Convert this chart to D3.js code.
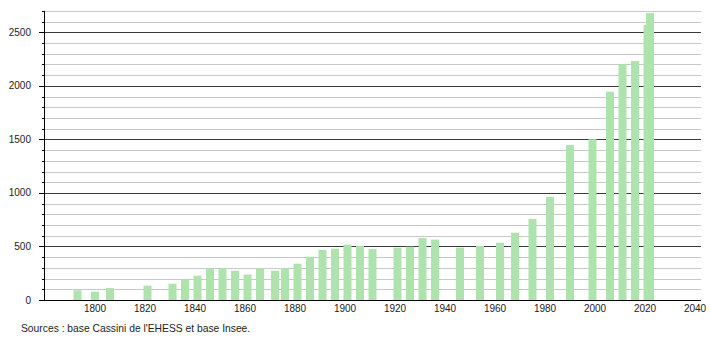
<!DOCTYPE html>
<html><head><meta charset="utf-8">
<script src="https://cdn.jsdelivr.net/npm/d3@7"></script>
<style>body{margin:0;background:#fff}svg{display:block}text{font-family:"Liberation Sans",Arial,sans-serif}</style>
</head><body>
<svg id="c" width="710" height="340"></svg>
<script>
const years = [1793,1800,1806,1821,1831,1836,1841,1846,1851,1856,1861,1866,1872,1876,1881,1886,1891,1896,1901,1906,1911,1921,1926,1931,1936,1946,1954,1962,1968,1975,1982,1990,1999,2006,2011,2016,2021,2022];
const population = [91,78,112,134,152,190,227,296,296,274,238,296,274,296,339,405,467,479,517,507,477,489,498,579,564,489,505,535,629,757,963,1447,1502,1945,2201,2232,2568,2680];
const yTicks = [0,500,1000,1500,2000,2500];
const xTicks = [1800,1820,1840,1860,1880,1900,1920,1940,1960,1980,2000,2020,2040];
const sourceText = "Sources : base Cassini de l'EHESS et base Insee.";

const svg = d3.select("#c");
const x = d3.scaleLinear().domain([1780, 2042.4]).range([45, 701]);
const y = d3.scaleLinear().domain([0, 2700]).range([300, 10.9]);
const minor = d3.range(100, 2701, 100).filter(v => v % 500 !== 0);

// minor grid
svg.append("g").selectAll("line").data(minor).join("line")
  .attr("x1", 44).attr("x2", 701)
  .attr("y1", d => Math.round(y(d)) + 0.5).attr("y2", d => Math.round(y(d)) + 0.5)
  .attr("stroke", "#c8c8c8").attr("stroke-width", 1);
// major grid
svg.append("g").selectAll("line").data(yTicks.filter(v => v > 0)).join("line")
  .attr("x1", 44).attr("x2", 701)
  .attr("y1", d => Math.round(y(d)) + 0.5).attr("y2", d => Math.round(y(d)) + 0.5)
  .attr("stroke", "#3a3a3a").attr("stroke-width", 1);

// bars
svg.append("g").selectAll("rect").data(years.map((yr, i) => ({yr, v: population[i]}))).join("rect")
  .attr("x", d => x(d.yr) - 4).attr("width", 8)
  .attr("y", d => y(d.v)).attr("height", d => y(0) - y(d.v))
  .attr("fill", "#aee3ae");

// y axis
const ya = svg.append("g");
ya.append("line").attr("x1", 44.5).attr("x2", 44.5).attr("y1", y(2700)).attr("y2", 300.5).attr("stroke", "#000");
ya.selectAll("line.mi").data(minor).join("line").attr("class", "mi")
  .attr("x1", 42).attr("x2", 44.5)
  .attr("y1", d => Math.round(y(d)) + 0.5).attr("y2", d => Math.round(y(d)) + 0.5).attr("stroke", "#000");
ya.selectAll("line.ma").data(yTicks).join("line").attr("class", "ma")
  .attr("x1", 39).attr("x2", 44.5)
  .attr("y1", d => Math.round(y(d)) + 0.5).attr("y2", d => Math.round(y(d)) + 0.5).attr("stroke", "#000");
ya.selectAll("text").data(yTicks).join("text")
  .attr("x", 31).attr("y", d => y(d) + 3.5).attr("text-anchor", "end")
  .attr("font-size", 10).attr("fill", "#222").text(d => d);

// x axis
svg.append("line").attr("x1", 44).attr("x2", 701).attr("y1", 300.5).attr("y2", 300.5).attr("stroke", "#000");
svg.append("g").selectAll("text").data(xTicks).join("text")
  .attr("x", d => x(d)).attr("y", 312).attr("text-anchor", "middle")
  .attr("font-size", 10).attr("fill", "#222").text(d => d);

svg.append("text").attr("x", 21).attr("y", 332).attr("font-size", 10.3).attr("fill", "#222").text(sourceText);
</script>
</body></html>
